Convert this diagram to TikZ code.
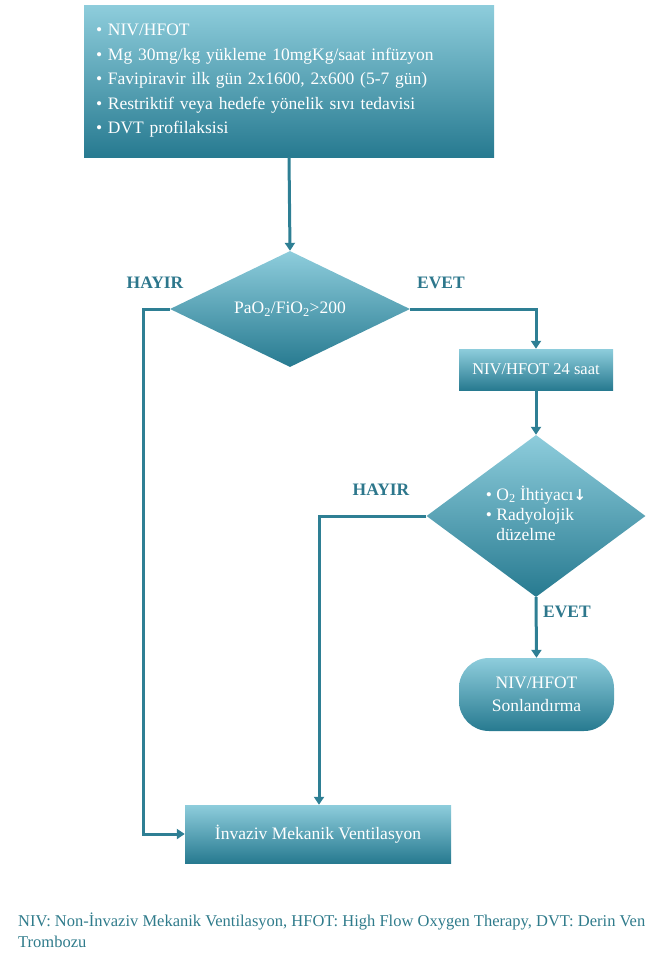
\documentclass[tikz,border=0pt]{standalone}
\usepackage{fontspec}
\setmainfont{Liberation Serif}
\newfontfamily\arrowfont{DejaVu Sans}
\usetikzlibrary{shapes.geometric,arrows.meta}

\definecolor{shadetop}{HTML}{8ECDDC}
\definecolor{shademid}{HTML}{3AA7C3}
\definecolor{shadebot}{HTML}{277A90}
\definecolor{linecol}{HTML}{2E7F94}
\definecolor{labelcol}{HTML}{2D778C}
\definecolor{notecol}{HTML}{2F7B8B}

\tikzset{
  fillshade/.style={top color=shadetop, middle color=shademid, bottom color=shadebot, draw=none,
                    text=white, font=\fontsize{17.5}{23}\selectfont},
  procbox/.style={fillshade, rectangle, inner sep=0pt},
  decision/.style={fillshade, diamond, inner sep=0pt, aspect=1.35},
  endbox/.style={fillshade, rectangle, rounded corners=30pt, inner sep=0pt, align=center},
  flow/.style={draw=linecol, line width=3pt, -{Triangle[length=8pt,width=10pt]}},
  answer/.style={text=labelcol, font=\fontsize{17.5}{20}\selectfont\bfseries}
}

\begin{document}
\begin{tikzpicture}[x=1pt,y=-1pt]
  \useasboundingbox (0,0) rectangle (646,953);

  % treatment bundle
  \node[procbox, minimum width=410pt, minimum height=152pt, text width=386pt, align=left,
        font=\fontsize{17.5}{24.5}\selectfont] (start) at (289,81)
    {\textbullet\ NIV/HFOT\\
     \textbullet\ Mg 30mg/kg yükleme 10mgKg/saat infüzyon\\
     \textbullet\ Favipiravir ilk gün 2x1600, 2x600 (5-7 gün)\\
     \textbullet\ Restriktif veya hedefe yönelik sıvı tedavisi\\
     \textbullet\ DVT profilaksisi};

  % first decision
  \node[decision, minimum width=240pt, minimum height=116pt] (d1) at (290,309)
    {PaO\textsubscript{2}/FiO\textsubscript{2}>200};

  \node[procbox, minimum width=154pt, minimum height=41pt, font=\fontsize{16.5}{20}\selectfont]
    (niv) at (536,369.5) {NIV/HFOT 24 saat};

  % second decision
  \node[decision, minimum width=219pt, minimum height=162pt, font=\fontsize{17.5}{20}\selectfont]
    (d2) at (536,516)
    {\begin{tabular}{@{}l@{\ }l@{}}
       \textbullet & O\textsubscript{2} İhtiyacı{\arrowfont\bfseries\fontsize{15}{20}\selectfont ↓}\\
       \textbullet & Radyolojik\\
                   & düzelme
     \end{tabular}};

  \node[endbox, minimum width=155pt, minimum height=73pt] (stop) at (536.5,694.5)
    {NIV/HFOT\\Sonlandırma};

  \node[procbox, minimum width=266pt, minimum height=58pt] (imv) at (318,834)
    {İnvaziv Mekanik Ventilasyon};

  % answer labels
  \node[answer] (no1) at (155,283) {HAYIR};
  \node[answer] (yes1) at (441,283) {EVET};
  \node[answer] (no2) at (381,490) {HAYIR};
  \node[answer] (yes2) at (567,612) {EVET};

  % connectors
  \coordinate (k1) at (143,309);
  \coordinate (k2) at (319,516);
  \draw[flow] (start.south) -- (d1.north);
  \draw[flow] (d1.west) -- (k1) |- (imv.west);
  \draw[flow] (d1.east) -| (niv.north);
  \draw[flow] (niv.south) -- (d2.north);
  \draw[flow] (d2.west) -- (k2) -- (k2 |- imv.north);
  \draw[flow] (d2.south) -- (stop.north);

  % abbreviations
  \node[anchor=north west, inner sep=0pt, text=notecol, align=left,
        font=\fontsize{16.5}{21}\selectfont] (note) at (18,913)
    {NIV: Non-İnvaziv Mekanik Ventilasyon, HFOT: High Flow Oxygen Therapy, DVT: Derin Ven\\
     Trombozu};
\end{tikzpicture}
\end{document}
